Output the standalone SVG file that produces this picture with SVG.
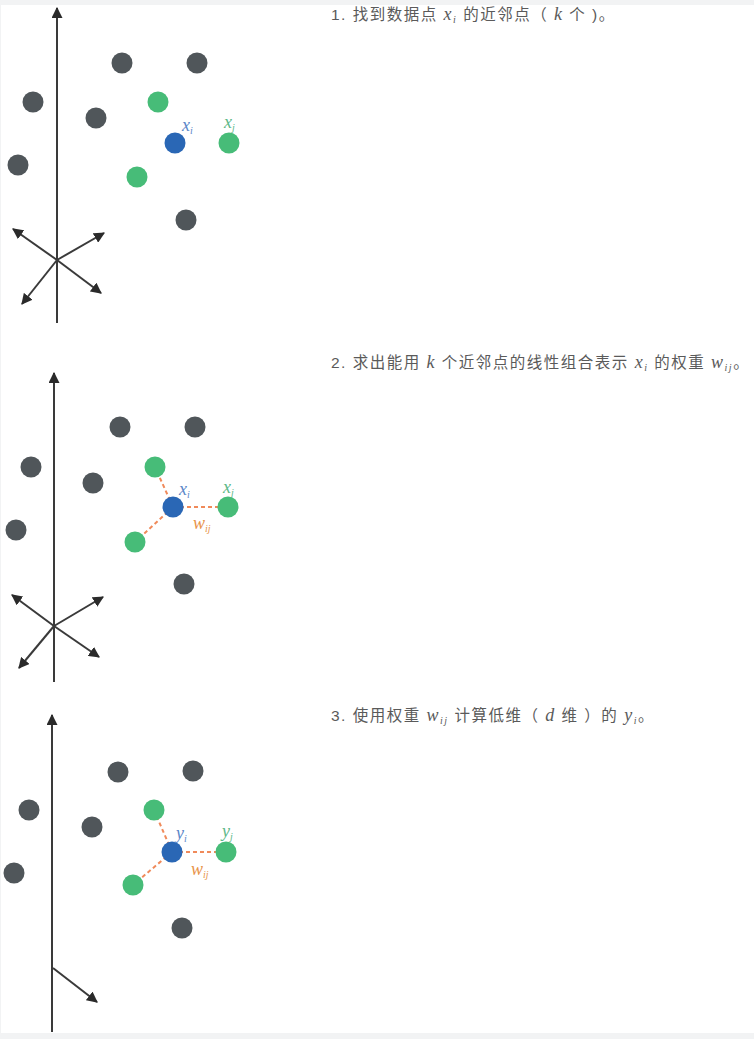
<svg xmlns="http://www.w3.org/2000/svg" width="754" height="1039" viewBox="0 0 754 1039">
<style>
.gray{fill:#50565a}
.green{fill:#47bc78}
.blue{fill:#2a67b5}
.axis{stroke:#3a3a3a;stroke-width:2;fill:none}
.dash{stroke:#f08a5a;stroke-width:2;stroke-dasharray:4 3;fill:none}
.cap{font-family:"Liberation Sans","Noto Sans CJK SC",sans-serif;font-size:15.5px;fill:#5a5a5a;letter-spacing:1.5px}
.m{font-family:"Liberation Serif",serif;font-style:italic;font-size:18px}
.s{font-family:"Liberation Serif",serif;font-style:italic;font-size:10px}
.lbl{font-family:"Liberation Serif",serif;font-style:italic;font-size:18px}
.lb{fill:#5b86c8}
.lg{fill:#5db888}
.lo{fill:#e8944a}
</style>
<defs>
<marker id="ah" viewBox="0 0 10 10" refX="9" refY="5" markerWidth="5.5" markerHeight="5.5" orient="auto-start-reverse" markerUnits="strokeWidth">
<path d="M0,0 L10,5 L0,10 z" fill="#2a2a2a"/>
</marker>
</defs>
<rect x="0" y="0" width="754" height="1039" fill="#f2f3f4"/>
<rect x="1" y="5" width="753" height="1028" fill="#ffffff"/>

<g id="connectors">
<line class="axis" x1="57" y1="323" x2="57" y2="8" marker-end="url(#ah)"/>
<line class="axis" x1="57" y1="260" x2="13" y2="229" marker-end="url(#ah)"/>
<line class="axis" x1="57" y1="260" x2="104" y2="233" marker-end="url(#ah)"/>
<line class="axis" x1="57" y1="260" x2="101" y2="293" marker-end="url(#ah)"/>
<line class="axis" x1="57" y1="260" x2="22" y2="304" marker-end="url(#ah)"/>

<line class="axis" x1="54" y1="682" x2="54" y2="373" marker-end="url(#ah)"/>
<line class="axis" x1="54" y1="626" x2="12" y2="595" marker-end="url(#ah)"/>
<line class="axis" x1="54" y1="626" x2="103" y2="597" marker-end="url(#ah)"/>
<line class="axis" x1="54" y1="626" x2="99" y2="657" marker-end="url(#ah)"/>
<line class="axis" x1="54" y1="626" x2="19" y2="668" marker-end="url(#ah)"/>

<line class="axis" x1="52" y1="1032" x2="52" y2="715" marker-end="url(#ah)"/>
<line class="axis" x1="53" y1="968" x2="97" y2="1002" marker-end="url(#ah)"/>

<line class="dash" x1="173" y1="507" x2="155" y2="467"/>
<line class="dash" x1="173" y1="507" x2="228" y2="507"/>
<line class="dash" x1="173" y1="507" x2="135" y2="542"/>

<line class="dash" x1="172" y1="852" x2="154" y2="810"/>
<line class="dash" x1="172" y1="852" x2="226" y2="852"/>
<line class="dash" x1="172" y1="852" x2="133" y2="885"/>
</g>

<g id="panel1">
<g id="p1-g1"><circle class="gray" cx="122" cy="63" r="10.5"/></g>
<g id="p1-g2"><circle class="gray" cx="197" cy="63" r="10.5"/></g>
<g id="p1-g3"><circle class="gray" cx="33" cy="102" r="10.5"/></g>
<g id="p1-g4"><circle class="gray" cx="96" cy="118" r="10.5"/></g>
<g id="p1-g5"><circle class="gray" cx="18" cy="165" r="10.5"/></g>
<g id="p1-g6"><circle class="gray" cx="186" cy="220" r="10.5"/></g>
<g id="p1-n1"><circle class="green" cx="158" cy="102" r="10.5"/></g>
<g id="p1-xj"><circle class="green" cx="229" cy="143" r="10.5"/><text class="lbl lg" x="224" y="128">x<tspan font-size="10" dy="3">j</tspan></text></g>
<g id="p1-n3"><circle class="green" cx="137" cy="177" r="10.5"/></g>
<g id="p1-xi"><circle class="blue" cx="175" cy="143" r="10.5"/><text class="lbl lb" x="182" y="131">x<tspan font-size="10" dy="3">i</tspan></text></g>
<g id="p1-caption"><text class="cap" x="331" y="20">1. 找到数据点 <tspan class="m">x</tspan><tspan class="s" dy="3">i</tspan><tspan dy="-3"> 的近邻点（ </tspan><tspan class="m">k</tspan> 个 )。</text></g>
</g>

<g id="panel2">
<g id="p2-g1"><circle class="gray" cx="120" cy="427" r="10.5"/></g>
<g id="p2-g2"><circle class="gray" cx="195" cy="427" r="10.5"/></g>
<g id="p2-g3"><circle class="gray" cx="31" cy="467" r="10.5"/></g>
<g id="p2-g4"><circle class="gray" cx="93" cy="483" r="10.5"/></g>
<g id="p2-g5"><circle class="gray" cx="16" cy="530" r="10.5"/></g>
<g id="p2-g6"><circle class="gray" cx="184" cy="584" r="10.5"/></g>
<g id="p2-n1"><circle class="green" cx="155" cy="467" r="10.5"/></g>
<g id="p2-xj"><circle class="green" cx="228" cy="507" r="10.5"/><text class="lbl lg" x="223" y="493">x<tspan font-size="10" dy="3">j</tspan></text></g>
<g id="p2-n3"><circle class="green" cx="135" cy="542" r="10.5"/></g>
<g id="p2-xi"><circle class="blue" cx="173" cy="507" r="10.5"/><text class="lbl lb" x="179" y="495">x<tspan font-size="10" dy="3">i</tspan></text></g>
<g id="p2-w"><text class="lbl lo" x="193" y="529" font-size="17">w<tspan font-size="10" dy="3">ij</tspan></text></g>
<g id="p2-caption"><text class="cap" x="331" y="368">2. 求出能用 <tspan class="m">k</tspan> 个近邻点的线性组合表示 <tspan class="m">x</tspan><tspan class="s" dy="3">i</tspan><tspan dy="-3"> 的权重 </tspan><tspan class="m">w</tspan><tspan class="s" dy="3">ij</tspan><tspan dy="-3">。</tspan></text></g>
</g>

<g id="panel3">
<g id="p3-g1"><circle class="gray" cx="118" cy="772" r="10.5"/></g>
<g id="p3-g2"><circle class="gray" cx="193" cy="771" r="10.5"/></g>
<g id="p3-g3"><circle class="gray" cx="29" cy="810" r="10.5"/></g>
<g id="p3-g4"><circle class="gray" cx="92" cy="827" r="10.5"/></g>
<g id="p3-g5"><circle class="gray" cx="14" cy="873" r="10.5"/></g>
<g id="p3-g6"><circle class="gray" cx="182" cy="928" r="10.5"/></g>
<g id="p3-n1"><circle class="green" cx="154" cy="810" r="10.5"/></g>
<g id="p3-yj"><circle class="green" cx="226" cy="852" r="10.5"/><text class="lbl lg" x="222" y="837">y<tspan font-size="10" dy="3">j</tspan></text></g>
<g id="p3-n3"><circle class="green" cx="133" cy="885" r="10.5"/></g>
<g id="p3-yi"><circle class="blue" cx="172" cy="852" r="10.5"/><text class="lbl lb" x="176" y="839">y<tspan font-size="10" dy="3">i</tspan></text></g>
<g id="p3-w"><text class="lbl lo" x="191" y="875" font-size="17">w<tspan font-size="10" dy="3">ij</tspan></text></g>
<g id="p3-caption"><text class="cap" x="331" y="721">3. 使用权重 <tspan class="m">w</tspan><tspan class="s" dy="3">ij</tspan><tspan dy="-3"> 计算低维（ </tspan><tspan class="m">d</tspan> 维 ）的 <tspan class="m">y</tspan><tspan class="s" dy="3">i</tspan><tspan dy="-3">。</tspan></text></g>
</g>
</svg>
